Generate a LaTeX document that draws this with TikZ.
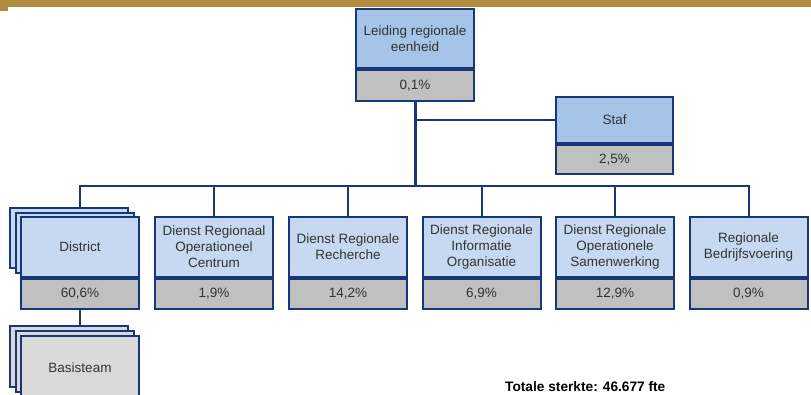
\documentclass[tikz,border=0pt]{standalone}
\usepackage{fontspec}
\setmainfont{Liberation Sans}
\pgfdeclarelayer{bg}
\pgfsetlayers{bg,main}
\definecolor{navy}{RGB}{25,55,120}
\definecolor{topblue}{RGB}{166,196,232}
\definecolor{rowblue}{RGB}{198,217,241}
\definecolor{pgray}{RGB}{192,192,192}
\definecolor{lgray}{RGB}{217,217,217}
\definecolor{gold}{RGB}{178,140,62}
\definecolor{txt}{RGB}{51,51,51}
\tikzset{
  unit/.style={draw=navy, line width=2pt, minimum width=118pt, minimum height=60pt,
    inner sep=1pt, align=center, text=txt, fill=rowblue,
    font=\fontsize{13.5}{16}\selectfont},
  pct/.style={draw=navy, line width=2pt, minimum width=118pt, minimum height=30pt,
    inner sep=0pt, text=txt, fill=pgray, anchor=north,
    font=\fontsize{13.5}{16}\selectfont},
  conn/.style={draw=navy, line width=2pt},
  trunk/.style={draw=navy, line width=3pt},
}
\begin{document}
\begin{tikzpicture}[x=1pt,y=-1pt]
\useasboundingbox (0,0) rectangle (811,394);
\clip (0,0) rectangle (811,394);
% gold header bar
\fill[gold] (0,0) rectangle (811,7);
\fill[gold] (0,7) rectangle (8,11);

% top
\node[unit, fill=topblue, minimum height=59pt] (lr) at (415,38.5) {Leiding regionale\\eenheid};
\node[pct, minimum height=31pt] (lrp) at (lr.south) {0,1\%};

\node[unit, fill=topblue, minimum width=117pt, minimum height=46pt] (staf) at (614.5,120) {Staf};
\node[pct, minimum width=117pt, minimum height=29pt] (stafp) at (staf.south) {2,5\%};

% district stack
\node[unit] (d3) at (69,237.5) {};
\node[unit] (d2) at (74.5,242.5) {};
\node[unit] (dist) at (80,247) {District};
\node[pct] (distp) at (dist.south) {60,6\%};

\node[unit] (drc) at (214,247) {Dienst Regionaal\\Operationeel\\Centrum};
\node[pct] (drcp) at (drc.south) {1,9\%};

\node[unit] (drr) at (348,247) {Dienst Regionale\\Recherche};
\node[pct] (drrp) at (drr.south) {14,2\%};

\node[unit] (drio) at (481.5,247) {Dienst Regionale\\Informatie\\Organisatie};
\node[pct] (driop) at (drio.south) {6,9\%};

\node[unit] (dros) at (615,247) {Dienst Regionale\\Operationele\\Samenwerking};
\node[pct] (drosp) at (dros.south) {12,9\%};

\node[unit] (rb) at (748.5,247) {Regionale\\Bedrijfsvoering};
\node[pct] (rbp) at (rb.south) {0,9\%};

% basisteam stack
\node[unit, fill=lgray, minimum height=61pt] (b3) at (69,356.5) {};
\node[unit, fill=lgray, minimum height=61pt] (b2) at (74.5,361) {};
\node[unit, fill=lgray, minimum height=64pt] (bt) at (80,368) {Basisteam};

\node[anchor=base west, inner sep=0pt, font=\fontsize{13.7}{16}\selectfont\bfseries] (tot) at (505,391) {Totale sterkte: 46.677 fte};

\coordinate (bus) at (415,186);

\begin{pgfonlayer}{bg}
  \fill[white] (0,7) rectangle (811,394);
  \draw[trunk] (lrp.south) -- (bus);
  \draw[conn] (staf.west) -- (staf.west -| lrp.south);
  \draw[conn] (d3.north -| dist.north) |- (bus) -| (rb.north);
  \draw[conn] (drc.north) -- (drc.north |- bus);
  \draw[conn] (drr.north) -- (drr.north |- bus);
  \draw[conn] (drio.north) -- (drio.north |- bus);
  \draw[conn] (dros.north) -- (dros.north |- bus);
  \draw[conn] (distp.south) -- (distp.south |- b3.north);
\end{pgfonlayer}
\end{tikzpicture}
\end{document}
